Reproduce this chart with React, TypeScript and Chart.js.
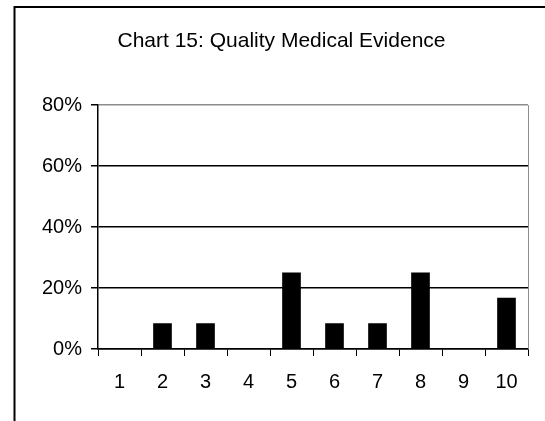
import React, { useEffect, useRef } from "react";
import { Chart, registerables } from "chart.js";

Chart.register(...registerables);

const categories: string[] = ["1", "2", "3", "4", "5", "6", "7", "8", "9", "10"];
const shares: number[] = [0, 8.33, 8.33, 0, 25, 8.33, 8.33, 25, 0, 16.67];
const yTicks: number[] = [0, 20, 40, 60, 80];
const chartTitle = "Chart 15: Quality Medical Evidence";

const FONT = "Arial, 'Liberation Sans', Helvetica, sans-serif";

// Outer frame (left and top edges) plus the grey right edge of the plot area
const framePlugin = {
  id: "frame",
  beforeDraw(chart: Chart) {
    const { ctx } = chart;
    ctx.save();
    ctx.fillStyle = "#ffffff";
    ctx.fillRect(0, 0, chart.width, chart.height);
    ctx.strokeStyle = "#000000";
    ctx.lineWidth = 2;
    ctx.beginPath();
    ctx.moveTo(14.5, chart.height + 2);
    ctx.lineTo(14.5, 7);
    ctx.lineTo(chart.width + 2, 7);
    ctx.stroke();
    ctx.restore();
  },
  afterDatasetsDraw(chart: Chart) {
    const { ctx, chartArea } = chart;
    ctx.save();
    ctx.strokeStyle = "#8c8c8c";
    ctx.lineWidth = 1;
    ctx.beginPath();
    const x = Math.round(chartArea.right) + 0.5;
    ctx.moveTo(x, chartArea.top);
    ctx.lineTo(x, chartArea.bottom);
    ctx.stroke();
    ctx.restore();
  },
};

export default function App() {
  const canvasRef = useRef<HTMLCanvasElement | null>(null);

  useEffect(() => {
    const canvas = canvasRef.current;
    if (!canvas) return;
    const chart = new Chart(canvas, {
      type: "bar",
      data: {
        labels: categories,
        datasets: [
          {
            data: shares,
            backgroundColor: "#000000",
            borderWidth: 0,
            barThickness: 18,
          },
        ],
      },
      options: {
        animation: false,
        responsive: false,
        maintainAspectRatio: false,
        layout: { padding: { top: 0, right: 17, bottom: 0, left: 35 } },
        plugins: {
          legend: { display: false },
          tooltip: { enabled: false },
          title: {
            display: true,
            text: chartTitle,
            color: "#000000",
            font: { family: FONT, size: 21, weight: "normal" },
            padding: { top: 29, bottom: 51 },
          },
        },
        scales: {
          x: {
            offset: true,
            grid: {
              display: true,
              offset: true,
              drawOnChartArea: false,
              drawTicks: true,
              tickLength: 7,
              tickColor: "#000000",
              tickWidth: 1,
            },
            border: { display: true, color: "#000000", width: 1.5 },
            ticks: {
              color: "#000000",
              font: { family: FONT, size: 20 },
              padding: 14,
              maxRotation: 0,
            },
            afterFit(scale: any) {
              scale.height = 72;
            },
          },
          y: {
            min: 0,
            max: 80,
            afterBuildTicks(scale: any) {
              scale.ticks = yTicks.map((v) => ({ value: v }));
            },
            grid: {
              color: (ctx: any) => (ctx.tick && ctx.tick.value === 80 ? "#8c8c8c" : "#000000"),
              lineWidth: 1.5,
              tickLength: 7,
              tickColor: "#000000",
              tickWidth: 1.5,
            },
            border: { display: true, color: "#000000", width: 1.5 },
            ticks: {
              color: "#000000",
              font: { family: FONT, size: 20 },
              padding: 9,
              callback: (v: any) => `${v}%`,
            },
            afterFit(scale: any) {
              scale.width = 63;
            },
          },
        },
      },
      plugins: [framePlugin],
    });
    return () => chart.destroy();
  }, []);

  return (
    <div style={{ position: "fixed", left: 0, top: 0, width: 545, height: 421 }}>
      <canvas ref={canvasRef} width={545} height={421} style={{ display: "block" }} />
    </div>
  );
}
